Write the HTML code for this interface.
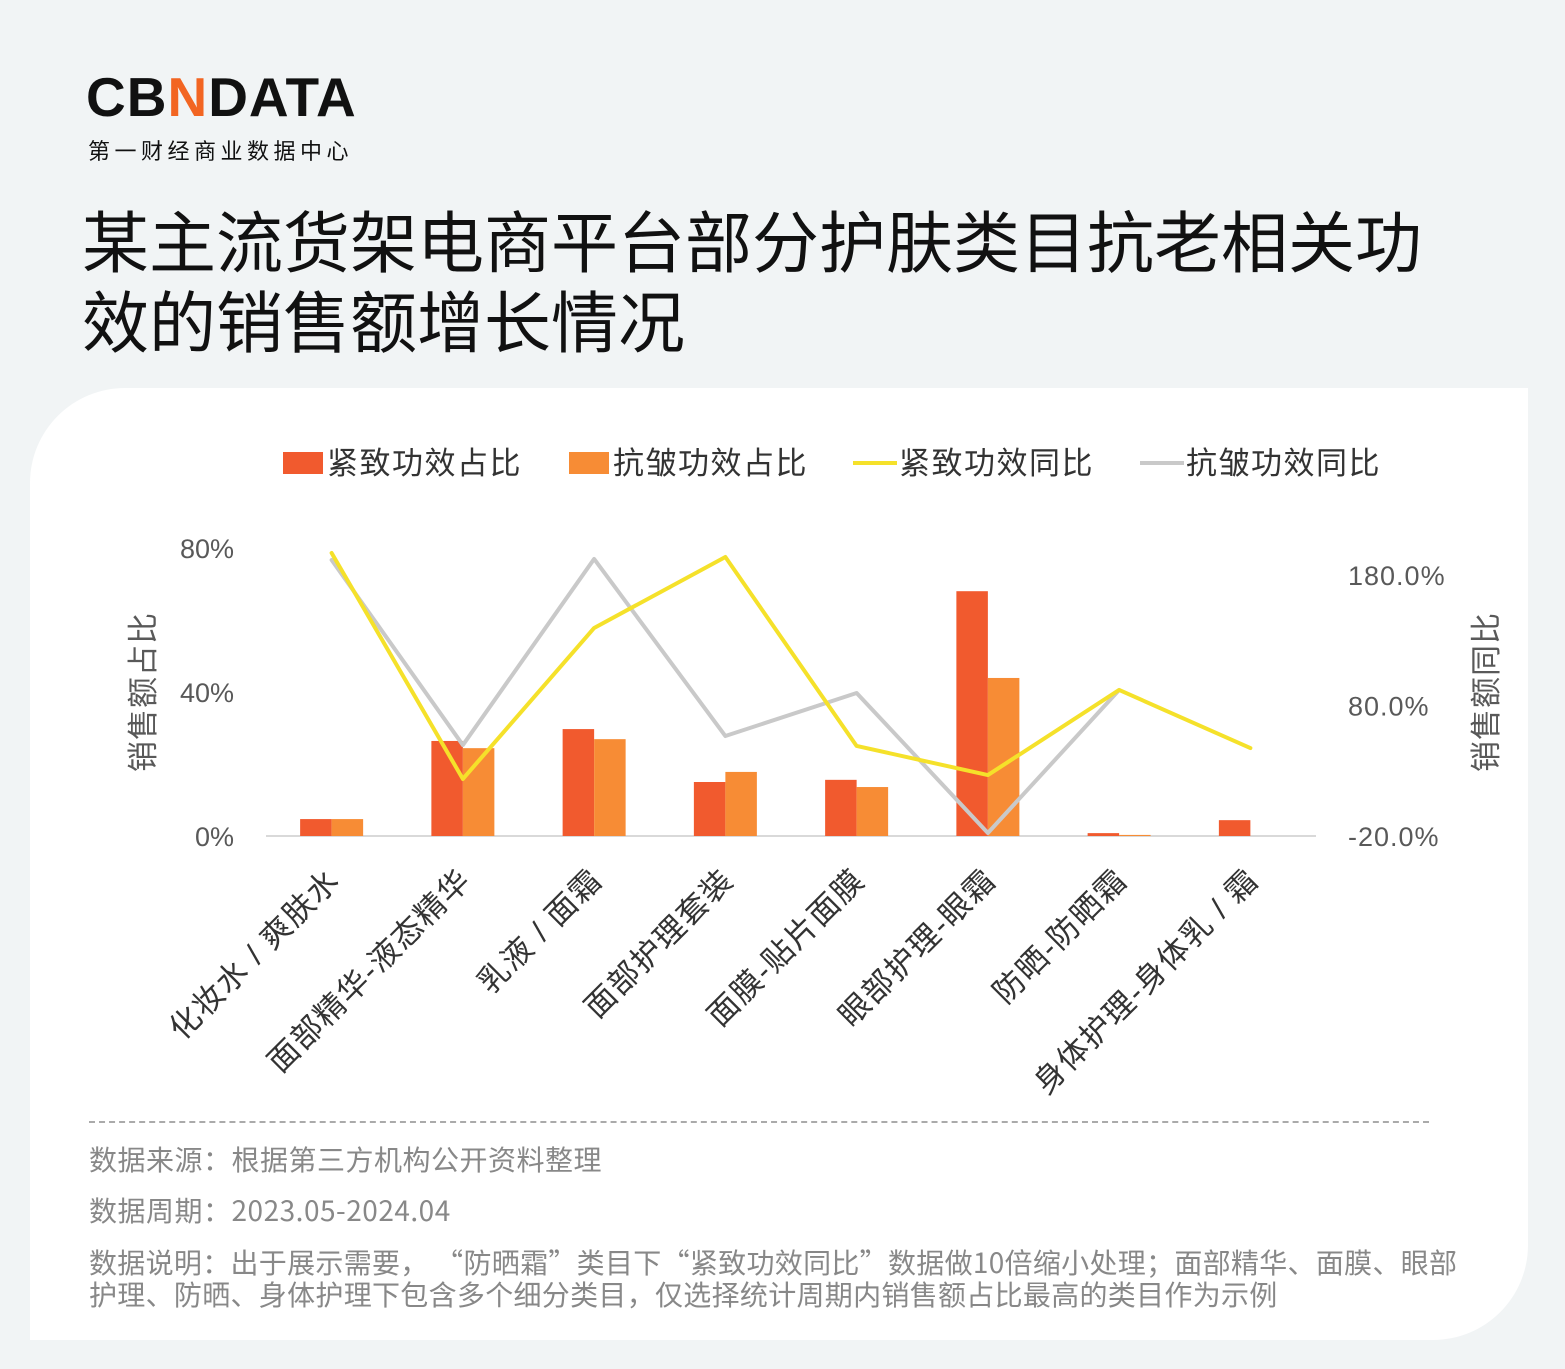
<!DOCTYPE html>
<html><head><meta charset="utf-8">
<style>
html,body{margin:0;padding:0;}
body{width:1565px;height:1369px;background:#f1f4f5;position:relative;overflow:hidden;font-family:"Liberation Sans","Noto Sans CJK SC",sans-serif;}
.logo{position:absolute;left:86px;top:70px;font-weight:bold;font-size:55px;letter-spacing:1px;color:#111;line-height:55px;}
.logo span{color:#f26522;}
.logo-sub{position:absolute;left:88px;top:134px;font-size:22px;letter-spacing:4.5px;color:#111;}
.title{position:absolute;left:82px;top:205px;font-size:67px;line-height:80px;color:#111;width:1370px;}
.card{position:absolute;left:30px;top:388px;width:1498px;height:952px;background:#fff;border-top-left-radius:95px;border-bottom-right-radius:95px;}
svg{position:absolute;left:0;top:0;}
.foot{position:absolute;left:89px;font-size:28px;letter-spacing:0.5px;color:#888;line-height:32px;font-family:"Noto Sans CJK SC","Liberation Sans",sans-serif;}
.dash{position:absolute;left:89px;top:1121px;width:1340px;border-top:2px dashed #aaa;}
</style></head><body>
<div class="logo">CB<span>N</span>DATA</div>
<div class="logo-sub">第一财经商业数据中心</div>
<div class="title">某主流货架电商平台部分护肤类目抗老相关功效的销售额增长情况</div>
<div class="card"></div>
<svg id="chart" width="1565" height="1369"></svg>
<div class="dash"></div>
<div class="foot" style="top:1143px">数据来源：根据第三方机构公开资料整理</div>
<div class="foot" style="top:1194px">数据周期：2023.05-2024.04</div>
<div class="foot" style="top:1246px;width:1390px;letter-spacing:0.3px">数据说明：出于展示需要， “防晒霜”类目下“紧致功效同比”数据做10倍缩小处理；面部精华、面膜、眼部<br>护理、防晒、身体护理下包含多个细分类目，仅选择统计周期内销售额占比最高的类目作为示例</div>
<script>
const categories=["化妆水/爽肤水","面部精华-液态精华","乳液/面霜","面部护理套装","面膜-贴片面膜","眼部护理-眼霜","防晒-防晒霜","身体护理-身体乳/霜"];
const firmShare=[4.7,26.4,29.7,15,15.6,68,0.8,4.4];
const wrinkleShare=[4.7,24.4,26.9,17.8,13.6,43.9,0.3,0];
const firmYoY=[196.9,23.7,139.4,193.8,49,26.7,91.9,47.4];
const wrinkleYoY=[191.5,49.7,192.3,56.6,89.6,-17.7,91.9,null];
const leftTicks=[0,40,80];
const rightTicks=[-20,80,180];
const NS="http://www.w3.org/2000/svg";
const svg=document.getElementById('chart');
function el(t,a,p){const e=document.createElementNS(NS,t);for(const k in a)e.setAttribute(k,a[k]);(p||svg).appendChild(e);return e;}
const x0=266,x1=1316,yBase=836;
const step=(x1-x0)/categories.length;
const xc=i=>x0+step*(i+0.5);
const yL=v=>yBase-v*3.6;
const yR=v=>yBase-(v+20)*1.305;
const bw=31.5;
let ax=el('line',{x1:x0,y1:yBase,x2:x1,y2:yBase,stroke:'#d9d9d9','stroke-width':2});

leftTicks.forEach(t=>{const e=el('text',{x:234,y:yL(t)+10,'text-anchor':'end','font-size':27,fill:'#595959'});e.textContent=t+'%';
});
rightTicks.forEach(t=>{const e=el('text',{x:1348,y:yR(t)+10,'font-size':27,'letter-spacing':1,fill:'#595959'});e.textContent=t.toFixed(1)+'%';
});
let yt=el('text',{x:0,y:0,'font-size':31,'letter-spacing':1,fill:'#595959','text-anchor':'middle',transform:'translate(154,692) rotate(-90)'});yt.textContent='销售额占比';

let yt2=el('text',{x:0,y:0,'font-size':31,'letter-spacing':1,fill:'#595959','text-anchor':'middle',transform:'translate(1497,692) rotate(-90)'});yt2.textContent='销售额同比';

categories.forEach((c,i)=>{
 const r=el('rect',{x:xc(i)-bw,y:yL(firmShare[i]),width:bw,height:yBase-yL(firmShare[i]),fill:'#f15a2e'});
 
 const o=el('rect',{x:xc(i),y:yL(wrinkleShare[i]),width:bw,height:yBase-yL(wrinkleShare[i]),fill:'#f78c35'});
 
 const tx=xc(i)+10,ty=882;
 const t=el('text',{x:tx,y:ty,'text-anchor':'end','font-size':31,'letter-spacing':1.5,fill:'#333',transform:`rotate(-45 ${tx} ${ty})`});t.textContent=c.replace('/',' / ');
 
});
function line(vals,color,name){let d='',pen=false;vals.forEach((v,i)=>{if(v===null){pen=false;return;}d+=(pen?'L':'M')+xc(i)+' '+yR(v)+' ';pen=true;});
 const p=el('path',{d:d,fill:'none',stroke:color,'stroke-width':4,'stroke-linejoin':'round','stroke-linecap':'round'});
 }
line(wrinkleYoY,'#c9c9c9','line-wrinkle-yoy');
line(firmYoY,'#f5e12a','line-firm-yoy');
const leg=[['紧致功效占比','#f15a2e','rect',283],['抗皱功效占比','#f78c35','rect',569],['紧致功效同比','#f5e12a','line',853],['抗皱功效同比','#c9c9c9','line',1140]];
leg.forEach(l=>{
 let m;
 if(l[2]==='rect')m=el('rect',{x:l[3],y:452,width:40,height:22,fill:l[1]});
 else m=el('line',{x1:l[3],y1:463,x2:l[3]+44,y2:463,stroke:l[1],'stroke-width':4});
 
 const t=el('text',{x:l[3]+(l[2]==='rect'?44:46),y:474,'font-size':31,'letter-spacing':1.5,fill:'#333'});t.textContent=l[0];
 
});
</script>
</body></html>
